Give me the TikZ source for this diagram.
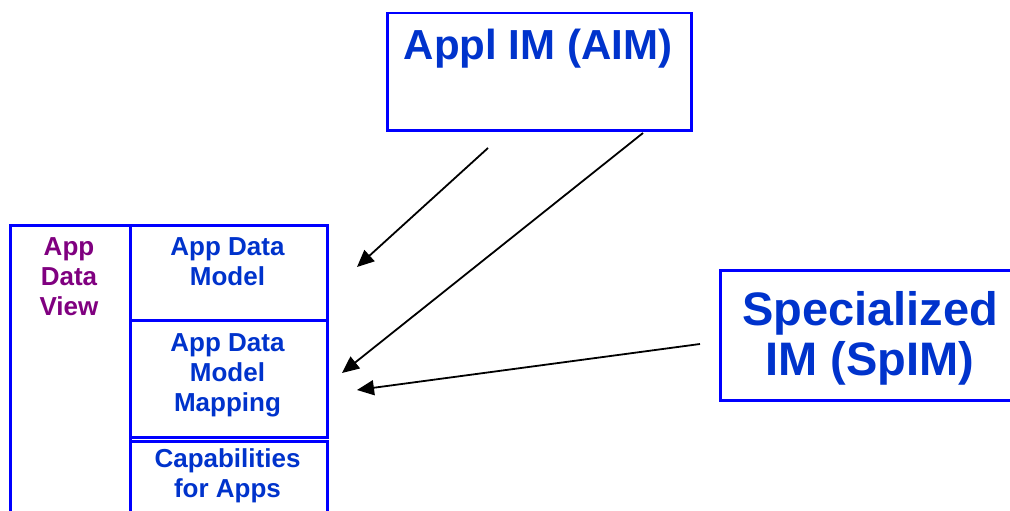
\documentclass[tikz,border=0pt]{standalone}
\usepackage{fontspec}
\setmainfont{Liberation Sans}
\usetikzlibrary{arrows.meta}
\definecolor{boxblue}{HTML}{0000FF}
\definecolor{txtblue}{HTML}{0033CC}
\definecolor{txtpurple}{HTML}{800080}
\tikzset{
  box/.style={draw=boxblue, line width=2.5pt, fill=white, inner sep=0pt, anchor=north west},
  lbl/.style={inner sep=0pt, anchor=north, align=center, text=txtblue, font=\bfseries\fontsize{26}{30}\selectfont},
  biglbl/.style={inner sep=0pt, anchor=north, align=center, text=txtblue},
  conn/.style={draw=black, line width=1.8pt, -{Triangle[length=17pt,width=15pt]}}
}
\begin{document}
\begin{tikzpicture}[x=1pt,y=-1pt]
\useasboundingbox (0,0) rectangle (1010,511);
\clip (0,0) rectangle (1010,511);
\fill[white] (0,0) rectangle (1010,511);
% boxes
\node[box, minimum width=304pt, minimum height=117pt] (aim) at (386,12) {};
\node[box, minimum width=320pt, minimum height=130pt] (spim) at (719,269) {};
\node[box, minimum width=120pt, minimum height=310pt] (view) at (9,224) {};
\node[box, minimum width=197pt, minimum height=95pt] (model) at (129,224) {};
\node[box, minimum width=197pt, minimum height=117pt] (mapping) at (129,319) {};
\node[box, minimum width=197pt, minimum height=100pt] (caps) at (129,440) {};
% labels
\node[biglbl, font=\bfseries\fontsize{42}{50}\selectfont] (aimlbl) at (538,29) {Appl IM (AIM)};
\node[biglbl, font=\bfseries\fontsize{47}{50}\selectfont] (spimlbl) at (870,291) {Specialized\\IM (SpIM)};
\node[lbl, text=txtpurple] (viewlbl) at (69,237) {App\\Data\\View};
\node[lbl] (modellbl) at (227.5,237) {App Data\\Model};
\node[lbl] (mappinglbl) at (227.5,333) {App Data\\Model\\Mapping};
\node[lbl] (capslbl) at (227.5,448) {Capabilities\\for Apps};
% connectors
\coordinate (s1) at (488,148);
\coordinate (t1) at (357,267);
\coordinate (s2) at (643,133);
\coordinate (t2) at (342,373);
\coordinate (s3) at (700,344);
\coordinate (t3) at (357,390);
\draw[conn] (s1) -- (t1);
\draw[conn] (s2) -- (t2);
\draw[conn] (s3) -- (t3);
\end{tikzpicture}
\end{document}
